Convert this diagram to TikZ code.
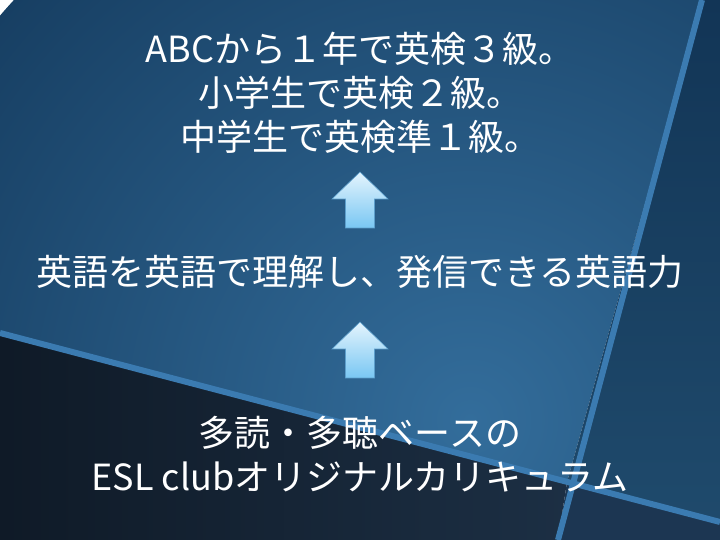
\documentclass[tikz,border=0pt]{standalone}
\usepackage{fontspec}
\newfontfamily\jpfont{Noto Sans CJK JP}
\usepackage{tikz}
\usetikzlibrary{arrows.meta}

\definecolor{stripblue}{HTML}{3B7BB1}
\definecolor{panelin}{HTML}{336D9B}
\definecolor{panelout}{HTML}{173F63}
\definecolor{darkleft}{HTML}{0F1A27}
\definecolor{darkright}{HTML}{1C2F44}
\definecolor{rtop}{HTML}{123556}
\definecolor{rbottom}{HTML}{1F4A6C}
\definecolor{lowright}{HTML}{1C3652}
\definecolor{arrowtop}{HTML}{E4F4FD}
\definecolor{arrowbottom}{HTML}{79C7F3}
\definecolor{arrowedge}{HTML}{5D9FCC}

\tikzset{
  slidetext/.style={text=white, font=\jpfont\fontsize{36}{44}\selectfont, align=center, inner sep=0pt},
  strip/.style={stripblue, line width=6pt}
}

\begin{document}
\begin{tikzpicture}[x=1pt, y=1pt]
        \useasboundingbox (0,0) rectangle (720,540);
        % background panels
        \begin{scope}
            \clip (0,540) -- (702,540) -- (567,58) -- (0,207) -- cycle;
            \shade[inner color=panelin, outer color=panelout] (470,120) circle (620);
        \end{scope}
        \shade[top color=rtop, bottom color=rbottom] (702,540) -- (720,540) -- (720,18) -- (567,58) -- cycle;
        \shade[left color=darkleft, right color=darkright] (0,207) -- (567,58) -- (558,0) -- (0,0) -- cycle;
        \fill[lowright] (567,58) -- (720,18) -- (720,0) -- (558,0) -- cycle;
        \draw[strip] (0,207) -- (720,18);
        \draw[strip] (702,540) -- (558,0);
        % texts
        \node[slidetext] (goals) at (360,447) {ABCから１年で英検３級。\\小学生で英検２級。\\中学生で英検準１級。};
        \node[slidetext] (skill) at (360,268) {英語を英語で理解し、発信できる英語力};
        \node[slidetext] (base) at (360,86) {多読・多聴ベースの\\ESL clubオリジナルカリキュラム};
        % block arrows
        \foreach \y in {312,162} {
            \shade[top color=arrowtop, bottom color=arrowbottom, draw=arrowedge, line width=0.6pt]
                (345.5,\y) -- (374.5,\y) -- (374.5,\y+29) -- (388,\y+29) -- (360,\y+56)
                -- (332,\y+29) -- (345.5,\y+29) -- cycle;
        }
    \end{tikzpicture}
\end{document}
